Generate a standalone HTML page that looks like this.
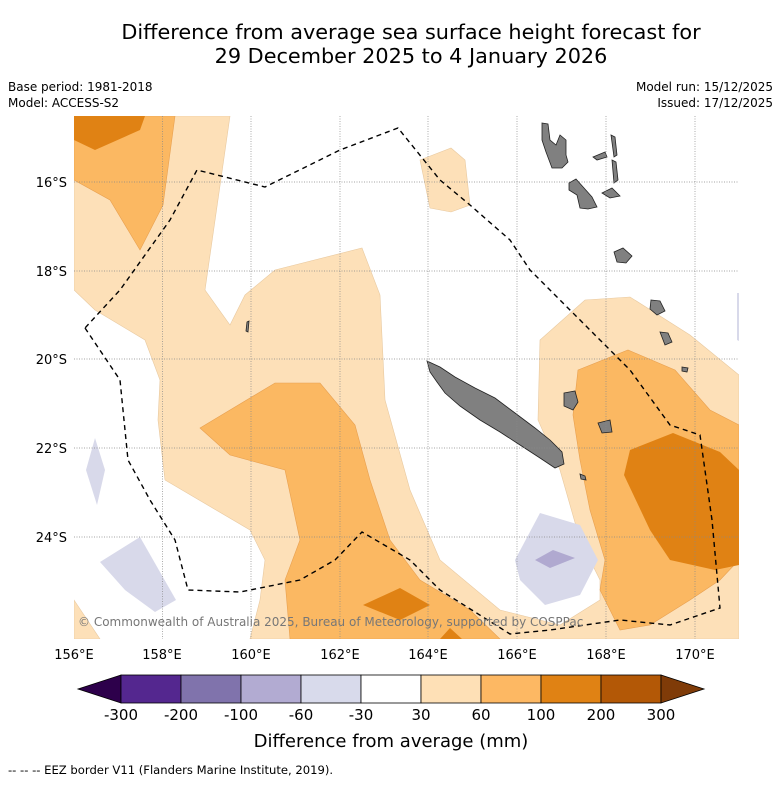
<!DOCTYPE html>
<html><head><meta charset="utf-8"><style>
body{margin:0;background:#fff;width:781px;height:781px;overflow:hidden;font-family:"DejaVu Sans","Liberation Sans",sans-serif}
</style></head><body>
<svg width="781" height="781" viewBox="0 0 781 781" xmlns="http://www.w3.org/2000/svg" font-family="DejaVu Sans, Liberation Sans, sans-serif">
<text x="411" y="39" font-size="20.8" text-anchor="middle">Difference from average sea surface height forecast for</text>
<text x="411" y="63" font-size="20.8" text-anchor="middle">29 December 2025 to 4 January 2026</text>
<text x="8" y="91" font-size="12">Base period: 1981-2018</text>
<text x="8" y="107" font-size="12">Model: ACCESS-S2</text>
<text x="773" y="91" font-size="12" text-anchor="end">Model run: 15/12/2025</text>
<text x="773" y="107" font-size="12" text-anchor="end">Issued: 17/12/2025</text>
<defs><clipPath id="mc"><rect x="74" y="116" width="665" height="523"/></clipPath></defs>
<g clip-path="url(#mc)">
<rect x="74" y="116" width="665" height="523" fill="#fff"/>
<g fill="#fde0b8" stroke="#e8c9a0" stroke-width="0.6">
<polygon points="74,116 230,116 205,290 230,325 245,295 275,270 362,248 380,295 385,400 410,490 440,560 500,610 560,625 600,600 600,580 580,540 560,470 538,420 540,340 585,300 630,297 690,335 739,375 739,639 250,639 260,600 265,560 250,530 165,480 158,420 160,380 145,340 95,310 74,290"/>
<polygon points="74,600 100,639 74,639"/>
<polygon points="420,160 451,148 465,160 470,205 451,212 430,208"/>
</g>
<g fill="#fbb862" stroke="#e8a050" stroke-width="0.6">
<polygon points="74,116 175,116 163,205 140,250 110,200 74,180"/>
<polygon points="200,428 275,383 320,383 355,425 370,480 390,540 420,580 470,610 500,639 290,639 285,580 300,540 285,470 230,455"/>
<polygon points="578,370 628,350 675,370 710,410 739,425 739,560 720,580 690,600 650,625 620,630 600,590 605,560 590,510 580,460 573,415"/>
</g>
<g fill="#e08214">
<polygon points="74,116 145,116 140,130 95,150 74,140"/>
<polygon points="363,605 400,588 430,605 400,620"/>
<polygon points="440,639 450,628 462,639"/>
<polygon points="630,450 673,433 720,452 739,470 739,565 715,570 670,560 650,530 624,475"/>
</g>
<g fill="#d8d9ea">
<polygon points="86,470 95,438 105,470 97,505"/>
<polygon points="100,562 140,537 176,600 155,612 125,590"/>
<polygon points="515,560 540,513 580,525 598,560 580,595 545,605 520,580"/>
<polygon points="737,293 741,293 741,342 737,340"/>
</g>
<polygon fill="#b0a9d0" points="535,560 553,550 575,558 550,568"/>
<g fill="#808080" stroke="#222" stroke-width="0.8">
<polygon points="427,361 440,367 455,377 475,388 495,398 515,413 535,428 550,440 562,452 564,464 555,468 540,458 520,445 500,432 480,420 460,406 445,393 437,382 430,372"/>
<polygon points="542,123 548,124 550,140 556,145 560,135 566,140 566,155 568,162 562,168 552,168 546,152 542,140"/>
<polygon points="569,183 576,179 584,188 592,197 597,207 588,209 580,208 577,195 569,190"/>
<polygon points="593,157 605,152 607,157 597,160"/>
<polygon points="611,135 615,137 617,155 614,157"/>
<polygon points="612,160 616,162 618,180 614,183"/>
<polygon points="602,193 612,188 620,196 610,198"/>
<polygon points="614,252 623,248 632,256 626,263 617,262"/>
<polygon points="651,300 660,301 665,311 657,315 650,309"/>
<polygon points="660,332 668,333 672,342 665,345"/>
<polygon points="682,367 688,368 687,372 682,371"/>
<polygon points="564,393 575,391 578,402 573,410 564,406"/>
<polygon points="598,423 610,420 612,432 602,433"/>
<polygon points="580,474 585,476 586,480 581,479"/>
<polygon points="247,322 249,321 248,332 246,331"/>
</g>
<g stroke="#888" stroke-width="0.7" stroke-dasharray="1,1.5">
<line x1="162.5" y1="116" x2="162.5" y2="639"/><line x1="251" y1="116" x2="251" y2="639"/><line x1="340" y1="116" x2="340" y2="639"/><line x1="428" y1="116" x2="428" y2="639"/><line x1="517" y1="116" x2="517" y2="639"/><line x1="606" y1="116" x2="606" y2="639"/><line x1="695" y1="116" x2="695" y2="639"/>
<line x1="74" y1="182" x2="739" y2="182"/><line x1="74" y1="271" x2="739" y2="271"/><line x1="74" y1="359" x2="739" y2="359"/><line x1="74" y1="448" x2="739" y2="448"/><line x1="74" y1="537" x2="739" y2="537"/>
</g>
<polyline fill="none" stroke="#000" stroke-width="1.4" stroke-dasharray="5,4" points="85,328 120,380 128,460 150,500 175,540 188,590 240,592 300,580 335,560 362,532 410,560 440,590 510,634 550,630 620,620 670,625 720,608 712,520 700,435 670,425 630,370 600,340 560,300 530,270 510,240 470,205 440,180 398,128 340,150 265,187 197,170 170,220 120,290 85,328"/>
<text x="78" y="626" font-size="12" fill="#777">© Commonwealth of Australia 2025, Bureau of Meteorology, supported by COSPPac</text>
</g>
<g font-size="13" text-anchor="end">
<text x="67" y="187">16°S</text><text x="67" y="276">18°S</text><text x="67" y="364">20°S</text><text x="67" y="453">22°S</text><text x="67" y="542">24°S</text>
</g>
<g font-size="13" text-anchor="middle">
<text x="74" y="659">156°E</text><text x="162" y="659">158°E</text><text x="251" y="659">160°E</text><text x="340" y="659">162°E</text><text x="428" y="659">164°E</text><text x="517" y="659">166°E</text><text x="606" y="659">168°E</text><text x="695" y="659">170°E</text>
</g>
<g id="cbar"></g>
<text x="391" y="747" font-size="18" text-anchor="middle">Difference from average (mm)</text>
<text x="8" y="774" font-size="11.6">--  --  -- EEZ border V11 (Flanders Marine Institute, 2019).</text>
</svg>
<script>
const binLabels=["-300","-200","-100","-60","-30","30","60","100","200","300"];
const binColors=["#54278f","#8073ac","#b2abd2","#d8daeb","#ffffff","#fee0b6","#fdb863","#e08214","#b35806"];
const extendColors=["#2d004b","#7f3b08"];
const g=document.getElementById('cbar');
const ns="http://www.w3.org/2000/svg";
const x0=121,w=60,y0=675,h=28;
function mk(t,a){const e=document.createElementNS(ns,t);for(const k in a)e.setAttribute(k,a[k]);g.appendChild(e);return e;}
let p=mk('polygon',{points:`78,689 ${x0},${y0} ${x0},${y0+h}`,fill:extendColors[0],stroke:'#000','stroke-width':0.8});


binColors.forEach((c,i)=>{const r=mk('rect',{x:x0+i*w,y:y0,width:w,height:h,fill:c,stroke:'#000','stroke-width':0.8});

});
const xe=x0+binColors.length*w;
p=mk('polygon',{points:`${xe},${y0} ${xe+43},689 ${xe},${y0+h}`,fill:extendColors[1],stroke:'#000','stroke-width':0.8});


binLabels.forEach((l,i)=>{const t=mk('text',{x:x0+i*w,y:720,'font-size':15,'text-anchor':'middle'});t.textContent=l;

});
</script>
</body></html>
